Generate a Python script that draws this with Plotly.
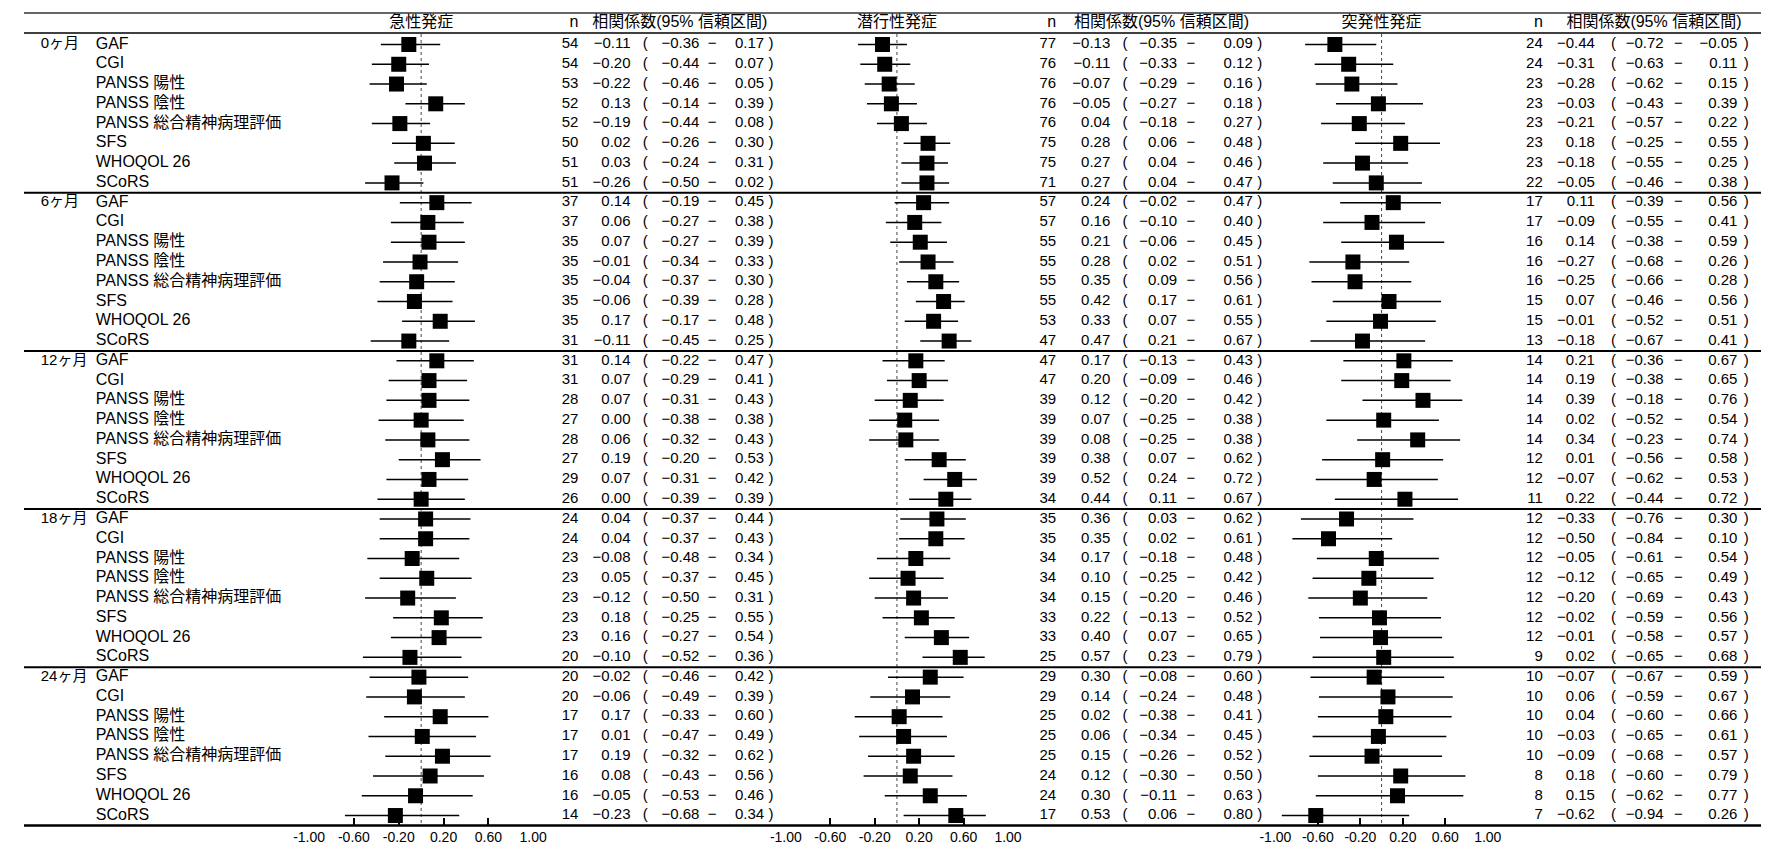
import plotly.graph_objects as go

# ---------------- data ----------------
time_points = ["0ヶ月", "6ヶ月", "12ヶ月", "18ヶ月", "24ヶ月"]
measures = ["GAF", "CGI", "PANSS 陽性", "PANSS 陰性", "PANSS 総合精神病理評価",
            "SFS", "WHOQOL 26", "SCoRS"]
panel_titles = ["急性発症", "潜行性発症", "突発性発症"]
col_header_n = "n"
col_header_r = "相関係数(95% 信頼区間)"
axis_tickvals = [-1.0, -0.6, -0.2, 0.2, 0.6, 1.0]
axis_ticktext = ["-1.00", "-0.60", "-0.20", "0.20", "0.60", "1.00"]

# 急性発症
acute_n = [54, 54, 53, 52, 52, 50, 51, 51,
           37, 37, 35, 35, 35, 35, 35, 31,
           31, 31, 28, 27, 28, 27, 29, 26,
           24, 24, 23, 23, 23, 23, 23, 20,
           20, 20, 17, 17, 17, 16, 16, 14]
acute_r = [-0.11, -0.20, -0.22, 0.13, -0.19, 0.02, 0.03, -0.26,
           0.14, 0.06, 0.07, -0.01, -0.04, -0.06, 0.17, -0.11,
           0.14, 0.07, 0.07, 0.00, 0.06, 0.19, 0.07, 0.00,
           0.04, 0.04, -0.08, 0.05, -0.12, 0.18, 0.16, -0.10,
           -0.02, -0.06, 0.17, 0.01, 0.19, 0.08, -0.05, -0.23]
acute_lo = [-0.36, -0.44, -0.46, -0.14, -0.44, -0.26, -0.24, -0.50,
            -0.19, -0.27, -0.27, -0.34, -0.37, -0.39, -0.17, -0.45,
            -0.22, -0.29, -0.31, -0.38, -0.32, -0.20, -0.31, -0.39,
            -0.37, -0.37, -0.48, -0.37, -0.50, -0.25, -0.27, -0.52,
            -0.46, -0.49, -0.33, -0.47, -0.32, -0.43, -0.53, -0.68]
acute_hi = [0.17, 0.07, 0.05, 0.39, 0.08, 0.30, 0.31, 0.02,
            0.45, 0.38, 0.39, 0.33, 0.30, 0.28, 0.48, 0.25,
            0.47, 0.41, 0.43, 0.38, 0.43, 0.53, 0.42, 0.39,
            0.44, 0.43, 0.34, 0.45, 0.31, 0.55, 0.54, 0.36,
            0.42, 0.39, 0.60, 0.49, 0.62, 0.56, 0.46, 0.34]

# 潜行性発症
insid_n = [77, 76, 76, 76, 76, 75, 75, 71,
           57, 57, 55, 55, 55, 55, 53, 47,
           47, 47, 39, 39, 39, 39, 39, 34,
           35, 35, 34, 34, 34, 33, 33, 25,
           29, 29, 25, 25, 25, 24, 24, 17]
insid_r = [-0.13, -0.11, -0.07, -0.05, 0.04, 0.28, 0.27, 0.27,
           0.24, 0.16, 0.21, 0.28, 0.35, 0.42, 0.33, 0.47,
           0.17, 0.20, 0.12, 0.07, 0.08, 0.38, 0.52, 0.44,
           0.36, 0.35, 0.17, 0.10, 0.15, 0.22, 0.40, 0.57,
           0.30, 0.14, 0.02, 0.06, 0.15, 0.12, 0.30, 0.53]
insid_lo = [-0.35, -0.33, -0.29, -0.27, -0.18, 0.06, 0.04, 0.04,
            -0.02, -0.10, -0.06, 0.02, 0.09, 0.17, 0.07, 0.21,
            -0.13, -0.09, -0.20, -0.25, -0.25, 0.07, 0.24, 0.11,
            0.03, 0.02, -0.18, -0.25, -0.20, -0.13, 0.07, 0.23,
            -0.08, -0.24, -0.38, -0.34, -0.26, -0.30, -0.11, 0.06]
insid_hi = [0.09, 0.12, 0.16, 0.18, 0.27, 0.48, 0.46, 0.47,
            0.47, 0.40, 0.45, 0.51, 0.56, 0.61, 0.55, 0.67,
            0.43, 0.46, 0.42, 0.38, 0.38, 0.62, 0.72, 0.67,
            0.62, 0.61, 0.48, 0.42, 0.46, 0.52, 0.65, 0.79,
            0.60, 0.48, 0.41, 0.45, 0.52, 0.50, 0.63, 0.80]

# 突発性発症
sudden_n = [24, 24, 23, 23, 23, 23, 23, 22,
            17, 17, 16, 16, 16, 15, 15, 13,
            14, 14, 14, 14, 14, 12, 12, 11,
            12, 12, 12, 12, 12, 12, 12, 9,
            10, 10, 10, 10, 10, 8, 8, 7]
sudden_r = [-0.44, -0.31, -0.28, -0.03, -0.21, 0.18, -0.18, -0.05,
            0.11, -0.09, 0.14, -0.27, -0.25, 0.07, -0.01, -0.18,
            0.21, 0.19, 0.39, 0.02, 0.34, 0.01, -0.07, 0.22,
            -0.33, -0.50, -0.05, -0.12, -0.20, -0.02, -0.01, 0.02,
            -0.07, 0.06, 0.04, -0.03, -0.09, 0.18, 0.15, -0.62]
sudden_lo = [-0.72, -0.63, -0.62, -0.43, -0.57, -0.25, -0.55, -0.46,
             -0.39, -0.55, -0.38, -0.68, -0.66, -0.46, -0.52, -0.67,
             -0.36, -0.38, -0.18, -0.52, -0.23, -0.56, -0.62, -0.44,
             -0.76, -0.84, -0.61, -0.65, -0.69, -0.59, -0.58, -0.65,
             -0.67, -0.59, -0.60, -0.65, -0.68, -0.60, -0.62, -0.94]
sudden_hi = [-0.05, 0.11, 0.15, 0.39, 0.22, 0.55, 0.25, 0.38,
             0.56, 0.41, 0.59, 0.26, 0.28, 0.56, 0.51, 0.41,
             0.67, 0.65, 0.76, 0.54, 0.74, 0.58, 0.53, 0.72,
             0.30, 0.10, 0.54, 0.49, 0.43, 0.56, 0.57, 0.68,
             0.59, 0.67, 0.66, 0.61, 0.57, 0.79, 0.77, 0.26]

# ---------------- layout geometry (pixels) ----------------
W, H = 1769, 847
ROW0 = 36.5          # pixel centre of first row
ROWH = 19.77         # row pitch
NROW = len(measures) * len(time_points)
FONT = "Liberation Sans, Noto Sans CJK JP, sans-serif"
FS_NUM = 15
FS_LBL = 16
FS_HDR = 16

panels = [
    dict(n=acute_n, r=acute_r, lo=acute_lo, hi=acute_hi, dom=(290, 518),
         n_x=564, r_x=617, lp_x=632, lo_x=687, dash_x=700, hi_x=753, rp_x=760, hdr_r=578),
    dict(n=insid_n, r=insid_r, lo=insid_lo, hi=insid_hi, dom=(775, 1001),
         n_x=1050, r_x=1105, lp_x=1120, lo_x=1173, dash_x=1187, hi_x=1250, rp_x=1257, hdr_r=1068),
    dict(n=sudden_n, r=sudden_r, lo=sudden_lo, hi=sudden_hi, dom=(1273, 1489),
         n_x=1545, r_x=1598, lp_x=1617, lo_x=1668, dash_x=1683, hi_x=1743, rp_x=1752, hdr_r=1569),
]


def fmt(v):
    return f"{v:.2f}".replace("-", "−")


def py(p):  # pixel y -> row-axis value
    return (ROW0 - p) / ROWH


ys = [-i for i in range(NROW)]
fig = go.Figure()


def text_trace(xs, yv, texts, pos, size):
    return go.Scatter(x=xs, y=yv, text=texts, textposition=pos, mode="text",
                      xaxis="x4", yaxis="y", hoverinfo="skip", showlegend=False,
                      cliponaxis=False, marker=dict(size=0),
                      textfont=dict(family=FONT, size=size, color="black"))


# row labels
group_rows = [-(g * len(measures)) for g in range(len(time_points))]
fig.add_trace(text_trace([17] * len(time_points), group_rows, time_points, "middle right", FS_NUM))
fig.add_trace(text_trace([73] * NROW, ys, measures * len(time_points), "middle right", FS_LBL))

hdr_y = py(15)
for k, p in enumerate(panels):
    ax = "x" if k == 0 else f"x{k + 1}"
    fig.add_trace(go.Scatter(
        x=p["r"], y=ys, mode="markers", xaxis=ax, yaxis="y",
        marker=dict(symbol="square", size=15, color="black", line=dict(width=0)),
        error_x=dict(type="data", symmetric=False,
                     array=[h - r for h, r in zip(p["hi"], p["r"])],
                     arrayminus=[r - l for r, l in zip(p["r"], p["lo"])],
                     color="black", thickness=1.5, width=0),
        showlegend=False, hoverinfo="skip", cliponaxis=False))
    cols = [
        (p["n_x"], [str(v) for v in p["n"]], "middle left"),
        (p["r_x"], [fmt(v) for v in p["r"]], "middle left"),
        (p["lp_x"], ["("] * NROW, "middle center"),
        (p["lo_x"], [fmt(v) for v in p["lo"]], "middle left"),
        (p["dash_x"], ["−"] * NROW, "middle center"),
        (p["hi_x"], [fmt(v) for v in p["hi"]], "middle left"),
        (p["rp_x"], [")"] * NROW, "middle center"),
    ]
    for cx, texts, pos in cols:
        fig.add_trace(text_trace([cx] * NROW, ys, texts, pos, FS_NUM))
    zero_px = (p["dom"][0] + p["dom"][1]) / 2
    fig.add_trace(text_trace([zero_px], [hdr_y], [panel_titles[k]], "middle center", FS_HDR))
    fig.add_trace(text_trace([p["n_x"]], [hdr_y], [col_header_n], "middle left", FS_HDR))
    fig.add_trace(text_trace([p["hdr_r"]], [hdr_y], [col_header_r], "middle right", FS_HDR))
    # zero reference line
    fig.add_shape(type="line", xref=ax, yref="y", x0=0, x1=0, y0=py(26), y1=-(NROW - 0.5),
                  line=dict(color="#444", width=1, dash="dot"), layer="below")

# horizontal rules
bottom_val = -(NROW - 0.5)
fig.add_shape(type="line", xref="paper", yref="y", x0=0, x1=1, y0=py(5), y1=py(5),
              line=dict(color="#333", width=1.5))
fig.add_shape(type="line", xref="paper", yref="y", x0=0, x1=1, y0=py(25), y1=py(25),
              line=dict(color="black", width=1.5))
for g in range(1, len(time_points)):
    yv = -(g * len(measures) - 0.5)
    fig.add_shape(type="line", xref="paper", yref="y", x0=0, x1=1, y0=yv, y1=yv,
                  line=dict(color="black", width=2))
fig.add_shape(type="line", xref="paper", yref="y", x0=0, x1=1, y0=bottom_val, y1=bottom_val,
              line=dict(color="black", width=2.5))

bottom_px = ROW0 - bottom_val * ROWH
axis_pos = 1 - bottom_px / H

layout_axes = {}
for k, p in enumerate(panels):
    name = "xaxis" if k == 0 else f"xaxis{k + 1}"
    layout_axes[name] = dict(
        domain=[p["dom"][0] / W, p["dom"][1] / W], range=[-1, 1],
        anchor="free", position=axis_pos, showgrid=False, zeroline=False, showline=False,
        tickmode="array", tickvals=axis_tickvals, ticktext=axis_ticktext,
        ticks="inside", ticklen=7, tickwidth=1.5, tickcolor="black",
        tickfont=dict(family=FONT, size=14, color="black"), ticklabelstandoff=2,
        fixedrange=True)
layout_axes["xaxis4"] = dict(domain=[0, 1], range=[0, W], anchor="y", visible=False,
                             fixedrange=True)

fig.update_layout(
    width=W, height=H,
    margin=dict(l=0, r=0, t=0, b=0),
    paper_bgcolor="white", plot_bgcolor="rgba(0,0,0,0)",
    yaxis=dict(domain=[0, 1], range=[-(H - ROW0) / ROWH, ROW0 / ROWH], visible=False,
               fixedrange=True),
    showlegend=False,
    **layout_axes,
)

fig.write_html("out.html")
